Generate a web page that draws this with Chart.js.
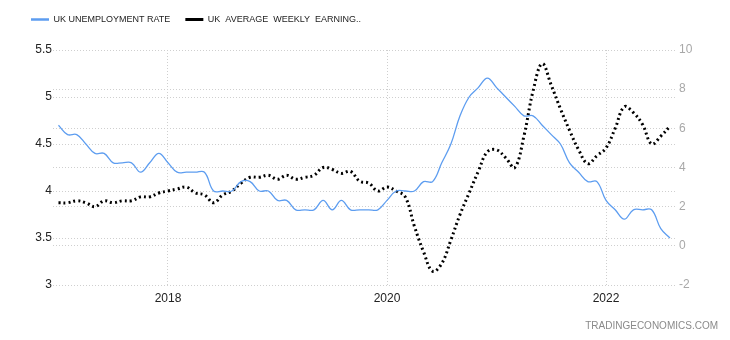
<!DOCTYPE html>
<html>
<head>
<meta charset="utf-8">
<script src="https://cdn.jsdelivr.net/npm/chart.js@4.4.0/dist/chart.umd.min.js"></script>
<style>
  html, body { margin: 0; padding: 0; background: #fff; }
  #wrap { width: 730px; height: 340px; }
</style>
</head>
<body>
<div id="wrap"><canvas id="chart" width="730" height="340"></canvas></div>
<script>
// monthly observations, Jan 2017 .. Aug 2022
const months = [
  '2017-01','2017-02','2017-03','2017-04','2017-05','2017-06','2017-07','2017-08','2017-09','2017-10','2017-11','2017-12',
  '2018-01','2018-02','2018-03','2018-04','2018-05','2018-06','2018-07','2018-08','2018-09','2018-10','2018-11','2018-12',
  '2019-01','2019-02','2019-03','2019-04','2019-05','2019-06','2019-07','2019-08','2019-09','2019-10','2019-11','2019-12',
  '2020-01','2020-02','2020-03','2020-04','2020-05','2020-06','2020-07','2020-08','2020-09','2020-10','2020-11','2020-12',
  '2021-01','2021-02','2021-03','2021-04','2021-05','2021-06','2021-07','2021-08','2021-09','2021-10','2021-11','2021-12',
  '2022-01','2022-02','2022-03','2022-04','2022-05','2022-06','2022-07','2022-08'
];

// unemployment rate, %
const unemployment = [
  4.7, 4.6, 4.6, 4.5, 4.4, 4.4, 4.3, 4.3, 4.3, 4.2, 4.3, 4.4,
  4.3, 4.2, 4.2, 4.2, 4.2, 4.0, 4.0, 4.0, 4.1, 4.1, 4.0, 4.0,
  3.9, 3.9, 3.8, 3.8, 3.8, 3.9, 3.8, 3.9, 3.8, 3.8, 3.8, 3.8,
  3.9, 4.0, 4.0, 4.0, 4.1, 4.1, 4.3, 4.5, 4.8, 5.0, 5.1, 5.2,
  5.1, 5.0, 4.9, 4.8, 4.8, 4.7, 4.6, 4.5, 4.3, 4.2, 4.1, 4.1,
  3.9, 3.8, 3.7, 3.8, 3.8, 3.8, 3.6, 3.5
];

// average weekly earnings growth, %
const earnings = [
  2.2, 2.2, 2.3, 2.2, 2.0, 2.3, 2.2, 2.3, 2.3, 2.5, 2.5, 2.7,
  2.8, 2.9, 3.0, 2.7, 2.6, 2.2, 2.6, 2.8, 3.2, 3.5, 3.5, 3.6,
  3.4, 3.6, 3.4, 3.5, 3.6, 4.0, 3.9, 3.7, 3.8, 3.3, 3.2, 2.8,
  3.0, 2.8, 2.5, 1.0, -0.3, -1.3, -0.9, 0.3, 1.6, 2.7, 3.8, 4.8,
  4.9, 4.5, 4.0, 5.6, 7.9, 9.3, 8.2, 7.0, 5.9, 4.9, 4.2, 4.6,
  5.0, 6.0, 7.1, 6.8, 6.2, 5.2, 5.6, 6.1
];

const yearTicks = [2018, 2020, 2022];

function toYear(m) {
  const parts = m.split('-');
  return parseInt(parts[0], 10) + (parseInt(parts[1], 10) - 1) / 12;
}
function series(values) {
  return values.map((v, i) => ({ x: toYear(months[i]), y: v }));
}

// leave room between the legend and the plot
const legendGap = {
  id: 'legendGap',
  afterInit(chart) {
    const fit = chart.legend.fit;
    chart.legend.fit = function () {
      fit.call(this);
      this.height += 16;
    };
  }
};

const gridDots = '#cfcfcf';

const config = {
  type: 'line',
  data: {
    datasets: [
      {
        label: 'UK UNEMPLOYMENT RATE',
        data: series(unemployment),
        yAxisID: 'y',
        borderColor: '#5d9df0',
        backgroundColor: '#5d9df0',
        borderWidth: 1.3,
        pointRadius: 0,
        pointStyle: 'line',
        tension: 0.4,
        fill: false
      },
      {
        label: 'UK  AVERAGE  WEEKLY  EARNING..',
        data: series(earnings),
        yAxisID: 'y1',
        borderColor: '#000',
        backgroundColor: '#000',
        borderWidth: 3,
        borderDash: [2, 3],
        pointRadius: 0,
        pointStyle: 'line',
        tension: 0.4,
        fill: false
      }
    ]
  },
  options: {
    responsive: false,
    animation: false,
    layout: { padding: { left: 16, right: 12, top: 0, bottom: 0 } },
    plugins: {
      legend: {
        position: 'top',
        align: 'start',
        labels: {
          usePointStyle: true,
          pointStyleWidth: 18,
          padding: 15,
          color: '#222',
          font: { family: 'Liberation Sans', size: 9 },
          generateLabels(chart) {
            const items = Chart.defaults.plugins.legend.labels.generateLabels(chart);
            items.forEach(it => { it.lineWidth = it.datasetIndex === 0 ? 2.5 : 3; });
            return items;
          }
        }
      },
      title: {
        display: true,
        position: 'bottom',
        align: 'end',
        text: 'TRADINGECONOMICS.COM',
        color: '#8a8a8a',
        font: { family: 'Liberation Sans', size: 10, weight: 'normal' },
        padding: { top: 7, bottom: 8 }
      },
      tooltip: { enabled: false }
    },
    scales: {
      x: {
        type: 'linear',
        min: 2016.95,
        max: 2022.648,
        afterBuildTicks(scale) {
          scale.ticks = yearTicks.map(v => ({ value: v }));
        },
        afterFit(scale) { scale.height = 28; },
        ticks: {
          callback: v => String(v),
          color: '#222',
          padding: 6,
          maxRotation: 0,
          font: { family: 'Liberation Sans', size: 12 }
        },
        grid: { color: gridDots, drawTicks: false },
        border: { display: false, dash: [1, 2] }
      },
      y: {
        position: 'left',
        min: 3,
        max: 5.5,
        afterFit(scale) { scale.width = 37; },
        ticks: {
          stepSize: 0.5,
          callback: v => String(v),
          color: '#222',
          padding: 1,
          font: { family: 'Liberation Sans', size: 12 }
        },
        grid: { color: gridDots, drawTicks: false },
        border: { display: false, dash: [1, 2] }
      },
      y1: {
        position: 'right',
        min: -2,
        max: 10,
        afterFit(scale) { scale.width = 41; },
        ticks: {
          stepSize: 2,
          color: '#a8a8a8',
          padding: 2,
          font: { family: 'Liberation Sans', size: 12 }
        },
        grid: { color: gridDots, drawTicks: false },
        border: { display: false, dash: [1, 2] }
      }
    }
  },
  plugins: [legendGap]
};

var myChart = new Chart(document.getElementById('chart'), config);
</script>
</body>
</html>
